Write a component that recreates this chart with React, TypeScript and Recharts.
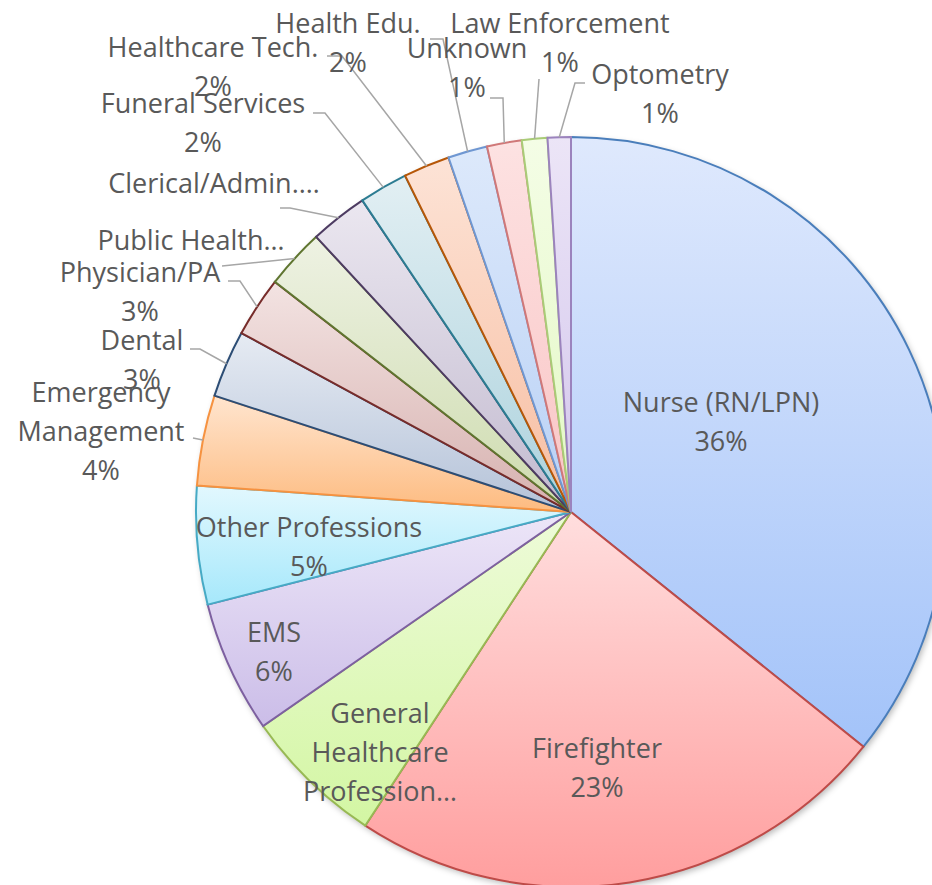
import { PieChart, Pie, Cell } from "recharts";

// slice order: clockwise from 12 o'clock
const professions = [
  "Nurse (RN/LPN)",
  "Firefighter",
  "General Healthcare Profession…",
  "EMS",
  "Other Professions",
  "Emergency Management",
  "Dental",
  "Physician/PA",
  "Public Health…",
  "Clerical/Admin.…",
  "Funeral Services",
  "Healthcare Tech.",
  "Health Edu.",
  "Unknown",
  "Law Enforcement",
  "Optometry",
];

const shares = [35.8, 23.5, 6.1, 5.7, 5.1, 3.9, 2.9, 2.6, 2.6, 2.5, 2.1, 2.0, 1.7, 1.5, 1.1, 1.0];

const FILL_TOP = [
  "#dfe9fd", "#ffdede", "#eefbd9", "#ede6f8", "#e2f8fe", "#ffe5cf", "#e6ebf3", "#f3e3e2",
  "#eef2e3", "#ebe7f0", "#e2eff3", "#fde3d6", "#dde9fb", "#fde2e2", "#f4fde6", "#ece5f7",
];
const FILL_BOTTOM = [
  "#a3c3f9", "#ff9e9e", "#d3f6a3", "#cbbde8", "#a6e8fb", "#fdbb80", "#b4c2d8", "#d6b1af",
  "#cddbae", "#c2bacf", "#acd2dd", "#f7bea2", "#b9d1f5", "#f9c5c5", "#e3f8c4", "#d3c6ec",
];
const STROKES = [
  "#4a7ebb", "#be4b48", "#98b954", "#7d60a0", "#46aac5", "#f69240", "#2c4d75", "#772c2a",
  "#5f7530", "#4d3b62", "#2c7c92", "#b65708", "#6f97d2", "#d07878", "#a9cc77", "#9b83bd",
];

const data = professions.map((name, i) => ({ name, value: shares[i] }));
const shadowData = [{ name: "shadow", value: 1 }];

// label placement relative to the pie centre (Excel "best fit" layout)
type LabelSpot = { dx: number; dy: number; lines: string[]; pct: boolean; leader?: number[][] };
const LABEL_LAYOUT: Record<string, LabelSpot> = {
  "Nurse (RN/LPN)": { dx: 150, dy: -100, lines: ["Nurse (RN/LPN)"], pct: true },
  Firefighter: { dx: 26, dy: 246, lines: ["Firefighter"], pct: true },
  "General Healthcare Profession…": { dx: -191, dy: 211, lines: ["General", "Healthcare", "Profession…"], pct: false },
  EMS: { dx: -297, dy: 130, lines: ["EMS"], pct: true },
  "Other Professions": { dx: -262, dy: 25, lines: ["Other Professions"], pct: true },
  "Emergency Management": { dx: -470, dy: -110, lines: ["Emergency", "Management"], pct: true, leader: [[-378, -74]] },
  Dental: { dx: -429, dy: -162, lines: ["Dental"], pct: true, leader: [[-381, -163], [-371, -163]] },
  "Physician/PA": { dx: -431, dy: -230, lines: ["Physician/PA"], pct: true, leader: [[-343, -231], [-331, -231]] },
  "Public Health…": { dx: -380, dy: -262, lines: ["Public Health…"], pct: false, leader: [[-349, -246]] },
  "Clerical/Admin.…": { dx: -357, dy: -319, lines: ["Clerical/Admin.…"], pct: false, leader: [[-291, -304], [-281, -304]] },
  "Funeral Services": { dx: -368, dy: -399, lines: ["Funeral Services"], pct: true, leader: [[-258, -399], [-246, -399]] },
  "Healthcare Tech.": { dx: -358, dy: -455, lines: ["Healthcare Tech."], pct: true, leader: [[-244, -456], [-229, -456]] },
  "Health Edu.": { dx: -223, dy: -479, lines: ["Health Edu."], pct: true, leader: [[-141, -473], [-128, -473]] },
  Unknown: { dx: -104, dy: -454, lines: ["Unknown"], pct: true, leader: [[-81, -414], [-68, -414]] },
  "Law Enforcement": { dx: -11, dy: -479, lines: ["Law Enforcement"], pct: true, leader: [[-32, -433]] },
  Optometry: { dx: 89, dy: -428, lines: ["Optometry"], pct: true, leader: [[14, -429], [4, -429]] },
};

const RADIAN = Math.PI / 180;
const LINE_GAP = 39;

// eslint-disable-next-line @typescript-eslint/no-explicit-any
function renderLabel(props: any) {
  const { cx, cy, midAngle, outerRadius, percent, name } = props;
  const spot = LABEL_LAYOUT[name];
  if (!spot) return null;
  const lines = spot.pct ? [...spot.lines, `${Math.round(percent * 100)}%`] : spot.lines;
  const x = cx + spot.dx;
  const y = cy + spot.dy;
  let leaderPath = "";
  if (spot.leader) {
    const ex = cx + outerRadius * Math.cos(-midAngle * RADIAN);
    const ey = cy + outerRadius * Math.sin(-midAngle * RADIAN);
    const pts = [...spot.leader.map(([px, py]) => [cx + px, cy + py]), [ex, ey]];
    leaderPath = pts.map(([px, py], i) => `${i === 0 ? "M" : "L"}${px},${py}`).join(" ");
  }
  return (
    <g key={`lbl-${name}`}>
      {leaderPath && <path d={leaderPath} stroke="#a6a6a6" strokeWidth={1.5} fill="none" />}
      <text
        x={x}
        y={y}
        textAnchor="middle"
        fill="#595959"
        style={{ fontFamily: "'Open Sans', sans-serif", fontSize: 27 }}
      >
        {lines.map((line, i) => (
          <tspan key={i} x={x} y={y + i * LINE_GAP}>
            {line}
          </tspan>
        ))}
      </text>
    </g>
  );
}

export default function App() {
  return (
    <div style={{ position: "absolute", left: 0, top: 0, width: 932, height: 885, background: "#fff", overflow: "hidden" }}>
      <PieChart width={932} height={885} margin={{ top: 0, right: 0, bottom: 0, left: 0 }}>
        <defs>
          {professions.map((_, i) => (
            <linearGradient key={i} id={`grad-${i}`} x1="0" y1="0" x2="0" y2="1">
              <stop offset="0%" stopColor={FILL_TOP[i]} />
              <stop offset="100%" stopColor={FILL_BOTTOM[i]} />
            </linearGradient>
          ))}
          <filter id="pie-shadow" x="-10%" y="-10%" width="120%" height="120%">
            <feGaussianBlur stdDeviation="3" />
          </filter>
        </defs>
        {/* soft drop shadow under the pie */}
        <Pie
          data={shadowData}
          dataKey="value"
          cx={573}
          cy={515}
          outerRadius={375}
          startAngle={90}
          endAngle={-270}
          isAnimationActive={false}
          label={false}
          labelLine={false}
          stroke="none"
        >
          <Cell fill="#000" fillOpacity={0.28} filter="url(#pie-shadow)" />
        </Pie>
        <Pie
          data={data}
          dataKey="value"
          nameKey="name"
          cx={571}
          cy={512}
          outerRadius={375}
          startAngle={90}
          endAngle={-270}
          isAnimationActive={false}
          labelLine={false}
          label={renderLabel}
        >
          {data.map((entry, i) => (
            <Cell key={entry.name} fill={`url(#grad-${i})`} stroke={STROKES[i]} strokeWidth={2} />
          ))}
        </Pie>
      </PieChart>
    </div>
  );
}
